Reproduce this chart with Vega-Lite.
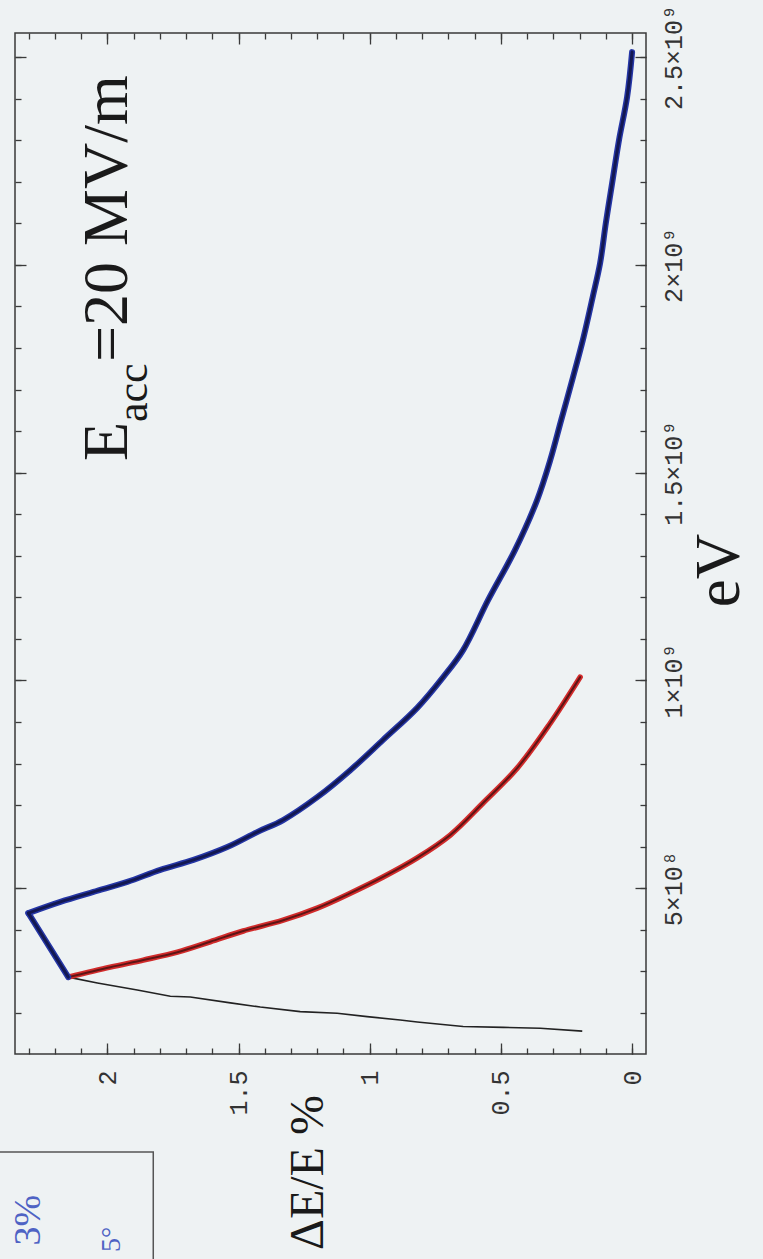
{
  "$schema": "https://vega.github.io/schema/vega-lite/v6.json",
  "width": 631,
  "height": 1021,
  "autosize": {"type": "none"},
  "padding": {"left": 15, "top": 33, "right": 117, "bottom": 205},
  "background": "#eef2f3",
  "config": {
    "view": {"stroke": "#3a3a3a", "strokeWidth": 1.5},
    "axis": {
      "domain": false,
      "grid": false,
      "tickColor": "#3a3a3a",
      "tickWidth": 1.3,
      "labelFont": "Liberation Mono",
      "labelFontSize": 25,
      "labelColor": "#333333",
      "titleFont": "Liberation Serif",
      "titleColor": "#1a1a1a",
      "titleFontWeight": "normal"
    }
  },
  "datasets": {
    "black": [
      {"dE": 2.149, "eV": 2.86e8},
      {"dE": 2.038, "eV": 2.72e8},
      {"dE": 1.886, "eV": 2.55e8},
      {"dE": 1.760, "eV": 2.40e8},
      {"dE": 1.684, "eV": 2.38e8},
      {"dE": 1.531, "eV": 2.24e8},
      {"dE": 1.417, "eV": 2.14e8},
      {"dE": 1.265, "eV": 2.03e8},
      {"dE": 1.124, "eV": 1.99e8},
      {"dE": 1.010, "eV": 1.91e8},
      {"dE": 0.884, "eV": 1.83e8},
      {"dE": 0.819, "eV": 1.78e8},
      {"dE": 0.644, "eV": 1.67e8},
      {"dE": 0.491, "eV": 1.65e8},
      {"dE": 0.350, "eV": 1.63e8},
      {"dE": 0.190, "eV": 1.56e8}
    ],
    "red": [
      {"dE": 2.149, "eV": 2.86e8},
      {"dE": 1.989, "eV": 3.10e8},
      {"dE": 1.863, "eV": 3.27e8},
      {"dE": 1.733, "eV": 3.46e8},
      {"dE": 1.608, "eV": 3.71e8},
      {"dE": 1.482, "eV": 3.97e8},
      {"dE": 1.330, "eV": 4.23e8},
      {"dE": 1.200, "eV": 4.52e8},
      {"dE": 1.074, "eV": 4.88e8},
      {"dE": 0.949, "eV": 5.27e8},
      {"dE": 0.819, "eV": 5.73e8},
      {"dE": 0.693, "eV": 6.28e8},
      {"dE": 0.568, "eV": 7.05e8},
      {"dE": 0.438, "eV": 7.89e8},
      {"dE": 0.312, "eV": 8.97e8},
      {"dE": 0.198, "eV": 1.008e9}
    ],
    "blue": [
      {"part": "rise", "dE": 2.149, "eV": 2.86e8},
      {"part": "rise", "dE": 2.301, "eV": 4.40e8},
      {"part": "fall", "dE": 2.301, "eV": 4.40e8},
      {"part": "fall", "dE": 2.179, "eV": 4.67e8},
      {"part": "fall", "dE": 2.053, "eV": 4.91e8},
      {"part": "fall", "dE": 1.924, "eV": 5.15e8},
      {"part": "fall", "dE": 1.798, "eV": 5.44e8},
      {"part": "fall", "dE": 1.672, "eV": 5.68e8},
      {"part": "fall", "dE": 1.543, "eV": 5.99e8},
      {"part": "fall", "dE": 1.429, "eV": 6.35e8},
      {"part": "fall", "dE": 1.330, "eV": 6.64e8},
      {"part": "fall", "dE": 1.200, "eV": 7.19e8},
      {"part": "fall", "dE": 1.074, "eV": 7.84e8},
      {"part": "fall", "dE": 0.949, "eV": 8.57e8},
      {"part": "fall", "dE": 0.819, "eV": 9.34e8},
      {"part": "fall", "dE": 0.720, "eV": 1.008e9},
      {"part": "fall", "dE": 0.644, "eV": 1.073e9},
      {"part": "fall", "dE": 0.549, "eV": 1.193e9},
      {"part": "fall", "dE": 0.446, "eV": 1.314e9},
      {"part": "fall", "dE": 0.362, "eV": 1.434e9},
      {"part": "fall", "dE": 0.312, "eV": 1.530e9},
      {"part": "fall", "dE": 0.270, "eV": 1.627e9},
      {"part": "fall", "dE": 0.225, "eV": 1.730e9},
      {"part": "fall", "dE": 0.185, "eV": 1.826e9},
      {"part": "fall", "dE": 0.150, "eV": 1.923e9},
      {"part": "fall", "dE": 0.122, "eV": 2.004e9},
      {"part": "fall", "dE": 0.100, "eV": 2.101e9},
      {"part": "fall", "dE": 0.076, "eV": 2.197e9},
      {"part": "fall", "dE": 0.050, "eV": 2.300e9},
      {"part": "fall", "dE": 0.019, "eV": 2.404e9},
      {"part": "fall", "dE": 0.000, "eV": 2.512e9}
    ]
  },
  "resolve": {"axis": {"x": "independent", "y": "independent"}},
  "layer": [
    {
      "data": {"name": "black"},
      "mark": {"type": "line", "color": "#222222", "strokeWidth": 1.6},
      "encoding": {
        "x": {
          "field": "dE", "type": "quantitative",
          "scale": {"domain": [-0.053, 2.352], "reverse": true, "nice": false, "zero": false},
          "axis": {
            "orient": "bottom", "values": [0, 0.5, 1, 1.5, 2], "format": "~g", "tickSize": -11,
            "labelAngle": 270, "labelAlign": "right", "labelBaseline": "middle", "labelPadding": 27,
            "title": "ΔE/E %", "titleAngle": 270, "titleFontSize": 48,
            "titleX": 307, "titleY": 118, "titleAlign": "center", "titleBaseline": "alphabetic"
          }
        },
        "y": {
          "field": "eV", "type": "quantitative",
          "scale": {"domain": [1.01e8, 2.558e9], "nice": false, "zero": false},
          "axis": {
            "orient": "right", "values": [5e8, 1e9, 1.5e9, 2e9, 2.5e9], "tickSize": -11,
            "labelExpr": "datum.value < 1e9 ? format(datum.value / 1e8, '~g') + '×10⁸' : format(datum.value / 1e9, '~g') + '×10⁹'",
            "labelAngle": 270, "labelAlign": "center", "labelBaseline": "top", "labelPadding": 26,
            "title": "eV", "titleAngle": 270, "titleFontSize": 63,
            "titleX": 92, "titleY": 537, "titleAlign": "center", "titleBaseline": "alphabetic"
          }
        },
        "order": {"value": null}
      }
    },
    {
      "data": {"name": "red"},
      "mark": {"type": "line", "color": "#d22b2b", "strokeWidth": 5.5, "strokeCap": "round", "interpolate": "catmull-rom"},
      "encoding": {
        "x": {
          "field": "dE", "type": "quantitative",
          "scale": {"domain": [-0.053, 2.352], "reverse": true, "nice": false, "zero": false},
          "axis": {
            "orient": "bottom", "tickSize": -6, "labels": false, "title": null,
            "values": [0, 0.1, 0.2, 0.3, 0.4, 0.5, 0.6, 0.7, 0.8, 0.9, 1, 1.1, 1.2, 1.3, 1.4, 1.5, 1.6, 1.7, 1.8, 1.9, 2, 2.1, 2.2, 2.3]
          }
        },
        "y": {
          "field": "eV", "type": "quantitative",
          "scale": {"domain": [1.01e8, 2.558e9], "nice": false, "zero": false},
          "axis": {
            "orient": "right", "tickSize": -6, "labels": false, "title": null,
            "values": [2e8, 3e8, 4e8, 5e8, 6e8, 7e8, 8e8, 9e8, 1e9, 1.1e9, 1.2e9, 1.3e9, 1.4e9, 1.5e9, 1.6e9, 1.7e9, 1.8e9, 1.9e9, 2e9, 2.1e9, 2.2e9, 2.3e9, 2.4e9, 2.5e9]
          }
        },
        "order": {"value": null}
      }
    },
    {
      "data": {"name": "red"},
      "mark": {"type": "line", "color": "#5e1515", "strokeWidth": 2, "strokeCap": "round", "interpolate": "catmull-rom"},
      "encoding": {
        "x": {
          "field": "dE", "type": "quantitative",
          "scale": {"domain": [-0.053, 2.352], "reverse": true, "nice": false, "zero": false},
          "axis": {"orient": "top", "values": [0, 0.5, 1, 1.5, 2], "tickSize": -11, "labels": false, "title": null}
        },
        "y": {
          "field": "eV", "type": "quantitative",
          "scale": {"domain": [1.01e8, 2.558e9], "nice": false, "zero": false},
          "axis": {"orient": "left", "values": [5e8, 1e9, 1.5e9, 2e9, 2.5e9], "tickSize": -11, "labels": false, "title": null}
        },
        "order": {"value": null}
      }
    },
    {
      "data": {"name": "blue"},
      "mark": {"type": "line", "color": "#2536a6", "strokeWidth": 6, "strokeCap": "round", "strokeJoin": "round", "interpolate": "catmull-rom"},
      "encoding": {
        "x": {
          "field": "dE", "type": "quantitative",
          "scale": {"domain": [-0.053, 2.352], "reverse": true, "nice": false, "zero": false},
          "axis": {
            "orient": "top", "tickSize": -6, "labels": false, "title": null,
            "values": [0, 0.1, 0.2, 0.3, 0.4, 0.5, 0.6, 0.7, 0.8, 0.9, 1, 1.1, 1.2, 1.3, 1.4, 1.5, 1.6, 1.7, 1.8, 1.9, 2, 2.1, 2.2, 2.3]
          }
        },
        "y": {
          "field": "eV", "type": "quantitative",
          "scale": {"domain": [1.01e8, 2.558e9], "nice": false, "zero": false},
          "axis": {
            "orient": "left", "tickSize": -6, "labels": false, "title": null,
            "values": [2e8, 3e8, 4e8, 5e8, 6e8, 7e8, 8e8, 9e8, 1e9, 1.1e9, 1.2e9, 1.3e9, 1.4e9, 1.5e9, 1.6e9, 1.7e9, 1.8e9, 1.9e9, 2e9, 2.1e9, 2.2e9, 2.3e9, 2.4e9, 2.5e9]
          }
        },
        "detail": {"field": "part"},
        "order": {"value": null}
      }
    },
    {
      "data": {"name": "blue"},
      "mark": {"type": "line", "color": "#131852", "strokeWidth": 3, "strokeCap": "round", "strokeJoin": "round", "interpolate": "catmull-rom"},
      "encoding": {
        "x": {"field": "dE", "type": "quantitative", "scale": {"domain": [-0.053, 2.352], "reverse": true, "nice": false, "zero": false}, "axis": null},
        "y": {"field": "eV", "type": "quantitative", "scale": {"domain": [1.01e8, 2.558e9], "nice": false, "zero": false}, "axis": null},
        "detail": {"field": "part"},
        "order": {"value": null}
      }
    },
    {
      "data": {"values": [{}]},
      "mark": {"type": "text", "text": "E", "font": "Liberation Serif", "fontSize": 64, "angle": 270, "align": "left", "baseline": "alphabetic", "color": "#1a1a1a"},
      "encoding": {
        "x": {"datum": 1.924, "type": "quantitative", "axis": null},
        "y": {"datum": 1.528e9, "type": "quantitative", "axis": null}
      }
    },
    {
      "data": {"values": [{}]},
      "mark": {"type": "text", "text": "acc", "font": "Liberation Serif", "fontSize": 44, "angle": 270, "align": "left", "baseline": "alphabetic", "dx": 39, "dy": 20, "color": "#1a1a1a"},
      "encoding": {
        "x": {"datum": 1.924, "type": "quantitative", "axis": null},
        "y": {"datum": 1.528e9, "type": "quantitative", "axis": null}
      }
    },
    {
      "data": {"values": [{}]},
      "mark": {"type": "text", "text": "=20 MV/m", "font": "Liberation Serif", "fontSize": 64, "angle": 270, "align": "left", "baseline": "alphabetic", "dx": 99, "color": "#1a1a1a"},
      "encoding": {
        "x": {"datum": 1.924, "type": "quantitative", "axis": null},
        "y": {"datum": 1.528e9, "type": "quantitative", "axis": null}
      }
    },
    {
      "data": {"values": [{}]},
      "mark": {"type": "rect", "fill": "transparent", "stroke": "#555555", "strokeWidth": 1.5},
      "encoding": {
        "x": {"datum": 2.7, "type": "quantitative", "axis": null},
        "x2": {"datum": 1.825},
        "y": {"datum": -1.347e8, "type": "quantitative", "axis": null},
        "y2": {"datum": -6e8}
      }
    },
    {
      "data": {"values": [{}]},
      "mark": {"type": "text", "text": "3%", "font": "Liberation Serif", "fontSize": 38, "angle": 270, "align": "right", "baseline": "alphabetic", "color": "#4f63c4"},
      "encoding": {
        "x": {"datum": 2.255, "type": "quantitative", "axis": null},
        "y": {"datum": -2.38e8, "type": "quantitative", "axis": null}
      }
    },
    {
      "data": {"values": [{}]},
      "mark": {"type": "text", "text": "5°", "font": "Liberation Serif", "fontSize": 28, "angle": 270, "align": "right", "baseline": "alphabetic", "color": "#4f63c4"},
      "encoding": {
        "x": {"datum": 1.95, "type": "quantitative", "axis": null},
        "y": {"datum": -3.15e8, "type": "quantitative", "axis": null}
      }
    }
  ]
}
